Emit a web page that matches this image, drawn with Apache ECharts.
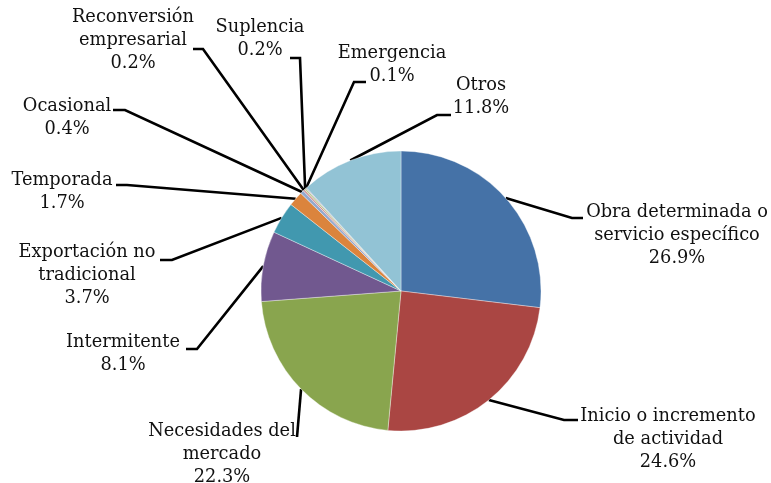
<!DOCTYPE html>
<html>
<head>
<meta charset="utf-8">
<script src="https://cdn.jsdelivr.net/npm/echarts@6/dist/echarts.min.js"></script>
<style>
html,body{margin:0;padding:0;background:#fff;}
#c{width:771px;height:483px;}
</style>
</head>
<body>
<div id="c"></div>
<script>
// ---- data ----
var categories = [
  'Obra determinada o\nservicio específico',
  'Inicio o incremento\nde actividad',
  'Necesidades del\nmercado',
  'Intermitente',
  'Exportación no\ntradicional',
  'Temporada',
  'Ocasional',
  'Reconversión\nempresarial',
  'Suplencia',
  'Emergencia',
  'Otros'
];
var shares = [26.9, 24.6, 22.3, 8.1, 3.7, 1.7, 0.4, 0.2, 0.2, 0.1, 11.8];

// ---- styles / layout ----
var colors = ['#4572A7', '#AA4643', '#89A54E', '#71588F', '#4198AF', '#DB843D',
              '#93A9CF', '#D19392', '#B9CD96', '#A99BBD', '#92C3D5'];
// label block: center x, top y; leader line: bend point, end point
var labelCfg = [
  {cx: 677, top: 201, bend: [572, 218], end: [583, 218]},
  {cx: 668, top: 405, bend: [564, 420], end: [578, 420]},
  {cx: 222, top: 420, bend: [297, 437], end: [297, 437]},
  {cx: 123, top: 331, bend: [197, 349], end: [186, 349]},
  {cx: 87,  top: 241, bend: [172, 260], end: [160, 260]},
  {cx: 62,  top: 169, bend: [127, 185], end: [116, 185]},
  {cx: 67,  top: 95,  bend: [125, 110], end: [113, 110]},
  {cx: 133, top: 6,   bend: [203, 49],  end: [193, 49]},
  {cx: 260, top: 16,  bend: [300, 58],  end: [290, 58]},
  {cx: 392, top: 42,  bend: [354, 82],  end: [366, 82]},
  {cx: 481, top: 74,  bend: [437, 115], end: [451, 115]}
];
var center = [401, 291], radius = 140;

var data = categories.map(function (n, i) {
  return {name: n, value: shares[i], itemStyle: {color: colors[i]}};
});

var chart = echarts.init(document.getElementById('c'), null, {renderer: 'canvas'});
chart.setOption({
  backgroundColor: '#ffffff',
  animation: false,
  series: [{
    type: 'pie',
    center: center,
    radius: radius,
    startAngle: 90,
    clockwise: true,
    avoidLabelOverlap: false,
    data: data,
    itemStyle: {borderColor: 'rgba(255,255,255,0.6)', borderWidth: 0.6},
    emphasis: {disabled: true},
    label: {
      show: true,
      position: 'outside',
      fontFamily: 'DejaVu Serif',
      fontSize: 17.8,
      lineHeight: 23,
      color: '#111111',
      formatter: function (p) { return p.name + '\n' + p.value.toFixed(1) + '%'; }
    },
    labelLine: {
      show: true,
      length: 10,
      length2: 10,
      smooth: false,
      lineStyle: {color: '#000', width: 2.6}
    },
    labelLayout: function (p) {
      var L = labelCfg[p.dataIndex];
      var start;
      if (p.labelLinePoints && p.labelLinePoints[0]) {
        start = p.labelLinePoints[0];
      } else {
        var before = 0, total = 0;
        for (var k = 0; k < shares.length; k++) { total += shares[k]; if (k < p.dataIndex) before += shares[k]; }
        var a = (before + shares[p.dataIndex] / 2) / total * Math.PI * 2;
        start = [center[0] + radius * Math.sin(a), center[1] - radius * Math.cos(a)];
      }
      return {
        x: L.cx, y: L.top, align: 'center', verticalAlign: 'top',
        labelLinePoints: [start, L.bend, L.end]
      };
    }
  }]
});
</script>
</body>
</html>
